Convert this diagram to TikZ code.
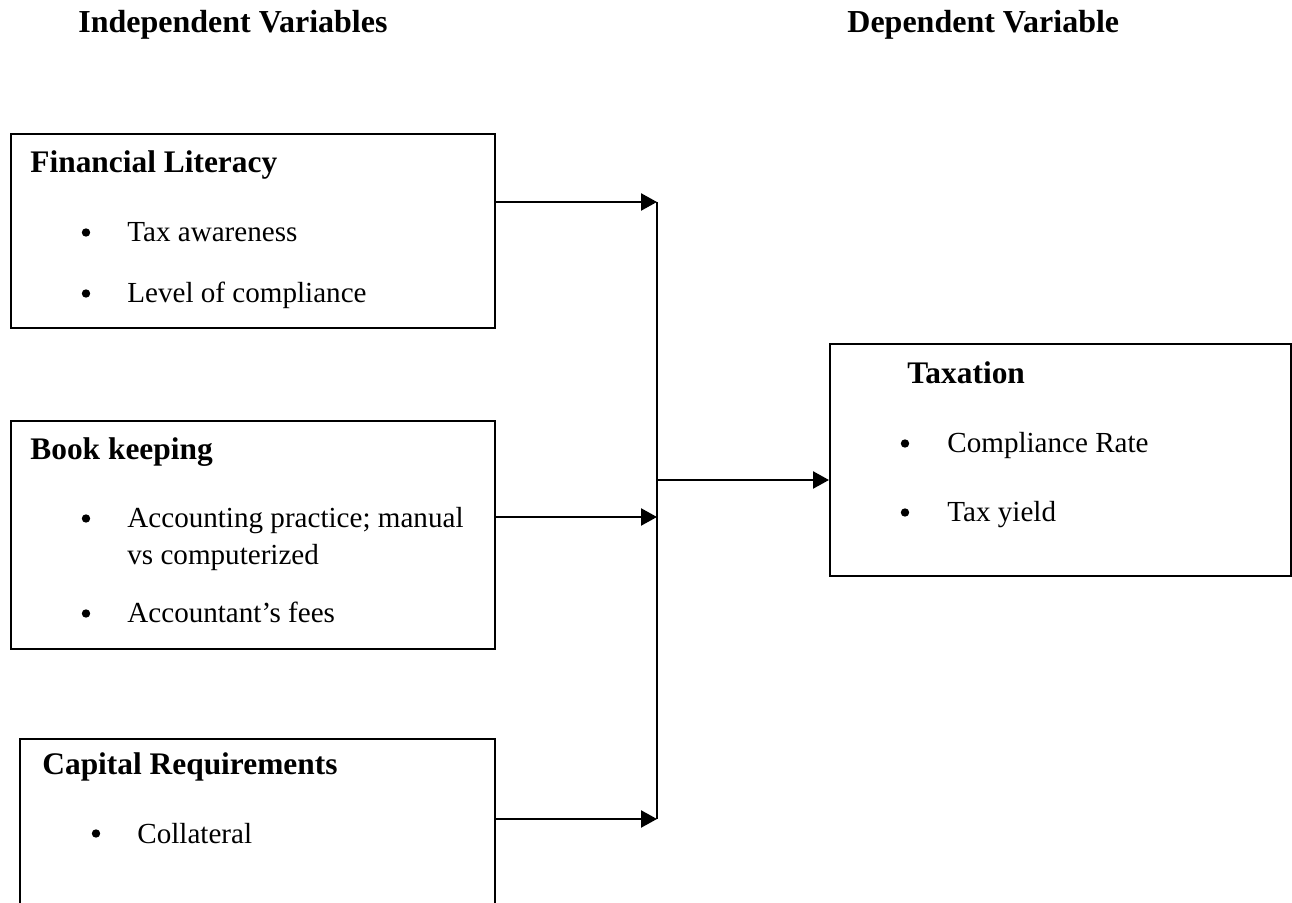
\documentclass[tikz,border=0pt]{standalone}
\usepackage{fontspec}
\setmainfont{Liberation Serif}
\usetikzlibrary{arrows.meta}
\begin{document}
\begin{tikzpicture}[x=0.5pt,y=-0.5pt,
  box/.style={draw, line width=1.2pt, rectangle, inner sep=0pt, anchor=north west},
  head/.style={anchor=base west, inner sep=0pt, font=\fontsize{16}{19}\selectfont\bfseries},
  title/.style={anchor=base west, inner sep=0pt, font=\fontsize{15.7}{19}\selectfont\bfseries},
  item/.style={anchor=base west, inner sep=0pt, font=\fontsize{14.55}{18.5}\selectfont},
  dot/.style={circle, fill=black, inner sep=0pt, minimum size=4.2pt},
  wire/.style={line width=1.2pt},
  link/.style={line width=1.2pt, -{Triangle[length=8pt,width=8.5pt]}},
  ]
\useasboundingbox (0,0) rectangle (1292,903);

% headings
\node[head] (hi) at (78,33) {Independent Variables};
\node[head] (hd) at (847,33) {Dependent Variable};

% boxes
\node[box, minimum width=242pt, minimum height=97pt] (fl) at (10,133) {};
\node[box, minimum width=242pt, minimum height=114pt] (bk) at (10,420) {};
\node[box, minimum width=237.5pt, minimum height=82.5pt] (cr) at (19,738) {};
\node[box, minimum width=230.5pt, minimum height=116pt] (tx) at (829,343) {};

% Financial Literacy
\node[title] (flt) at (30,173) {Financial Literacy};
\node[dot] (flb1) at (86,232.5) {};
\node[item] (fli1) at (127,242) {Tax awareness};
\node[dot] (flb2) at (86,293.5) {};
\node[item] (fli2) at (127,303) {Level of compliance};

% Book keeping
\node[title] (bkt) at (30,460) {Book keeping};
\node[dot] (bkb1) at (86,518.5) {};
\node[item] (bki1) at (127,528) {Accounting practice; manual};
\node[item] (bki1b) at (127,565) {vs computerized};
\node[dot] (bkb2) at (86,613.5) {};
\node[item] (bki2) at (127,623) {Accountant’s fees};

% Capital Requirements
\node[title] (crt) at (42,775) {Capital Requirements};
\node[dot] (crb1) at (96,833.5) {};
\node[item] (cri1) at (137,843) {Collateral};

% Taxation
\node[title] (txt) at (907,384) {Taxation};
\node[dot] (txb1) at (905,443.5) {};
\node[item] (txi1) at (947,453) {Compliance Rate};
\node[dot] (txb2) at (905,512.5) {};
\node[item] (txi2) at (947,522) {Tax yield};

% connectors
\coordinate (j1) at (657,202);
\coordinate (j2) at (657,517);
\coordinate (j3) at (657,819);
\coordinate (jm) at (657,480);

\draw[wire] (j1) -- (j3);
\draw[link] (fl.east |- j1) -- (j1);
\draw[link] (bk.east |- j2) -- (j2);
\draw[link] (cr.east |- j3) -- (j3);
\draw[link] (jm) -- (tx.west |- jm);
\end{tikzpicture}
\end{document}
